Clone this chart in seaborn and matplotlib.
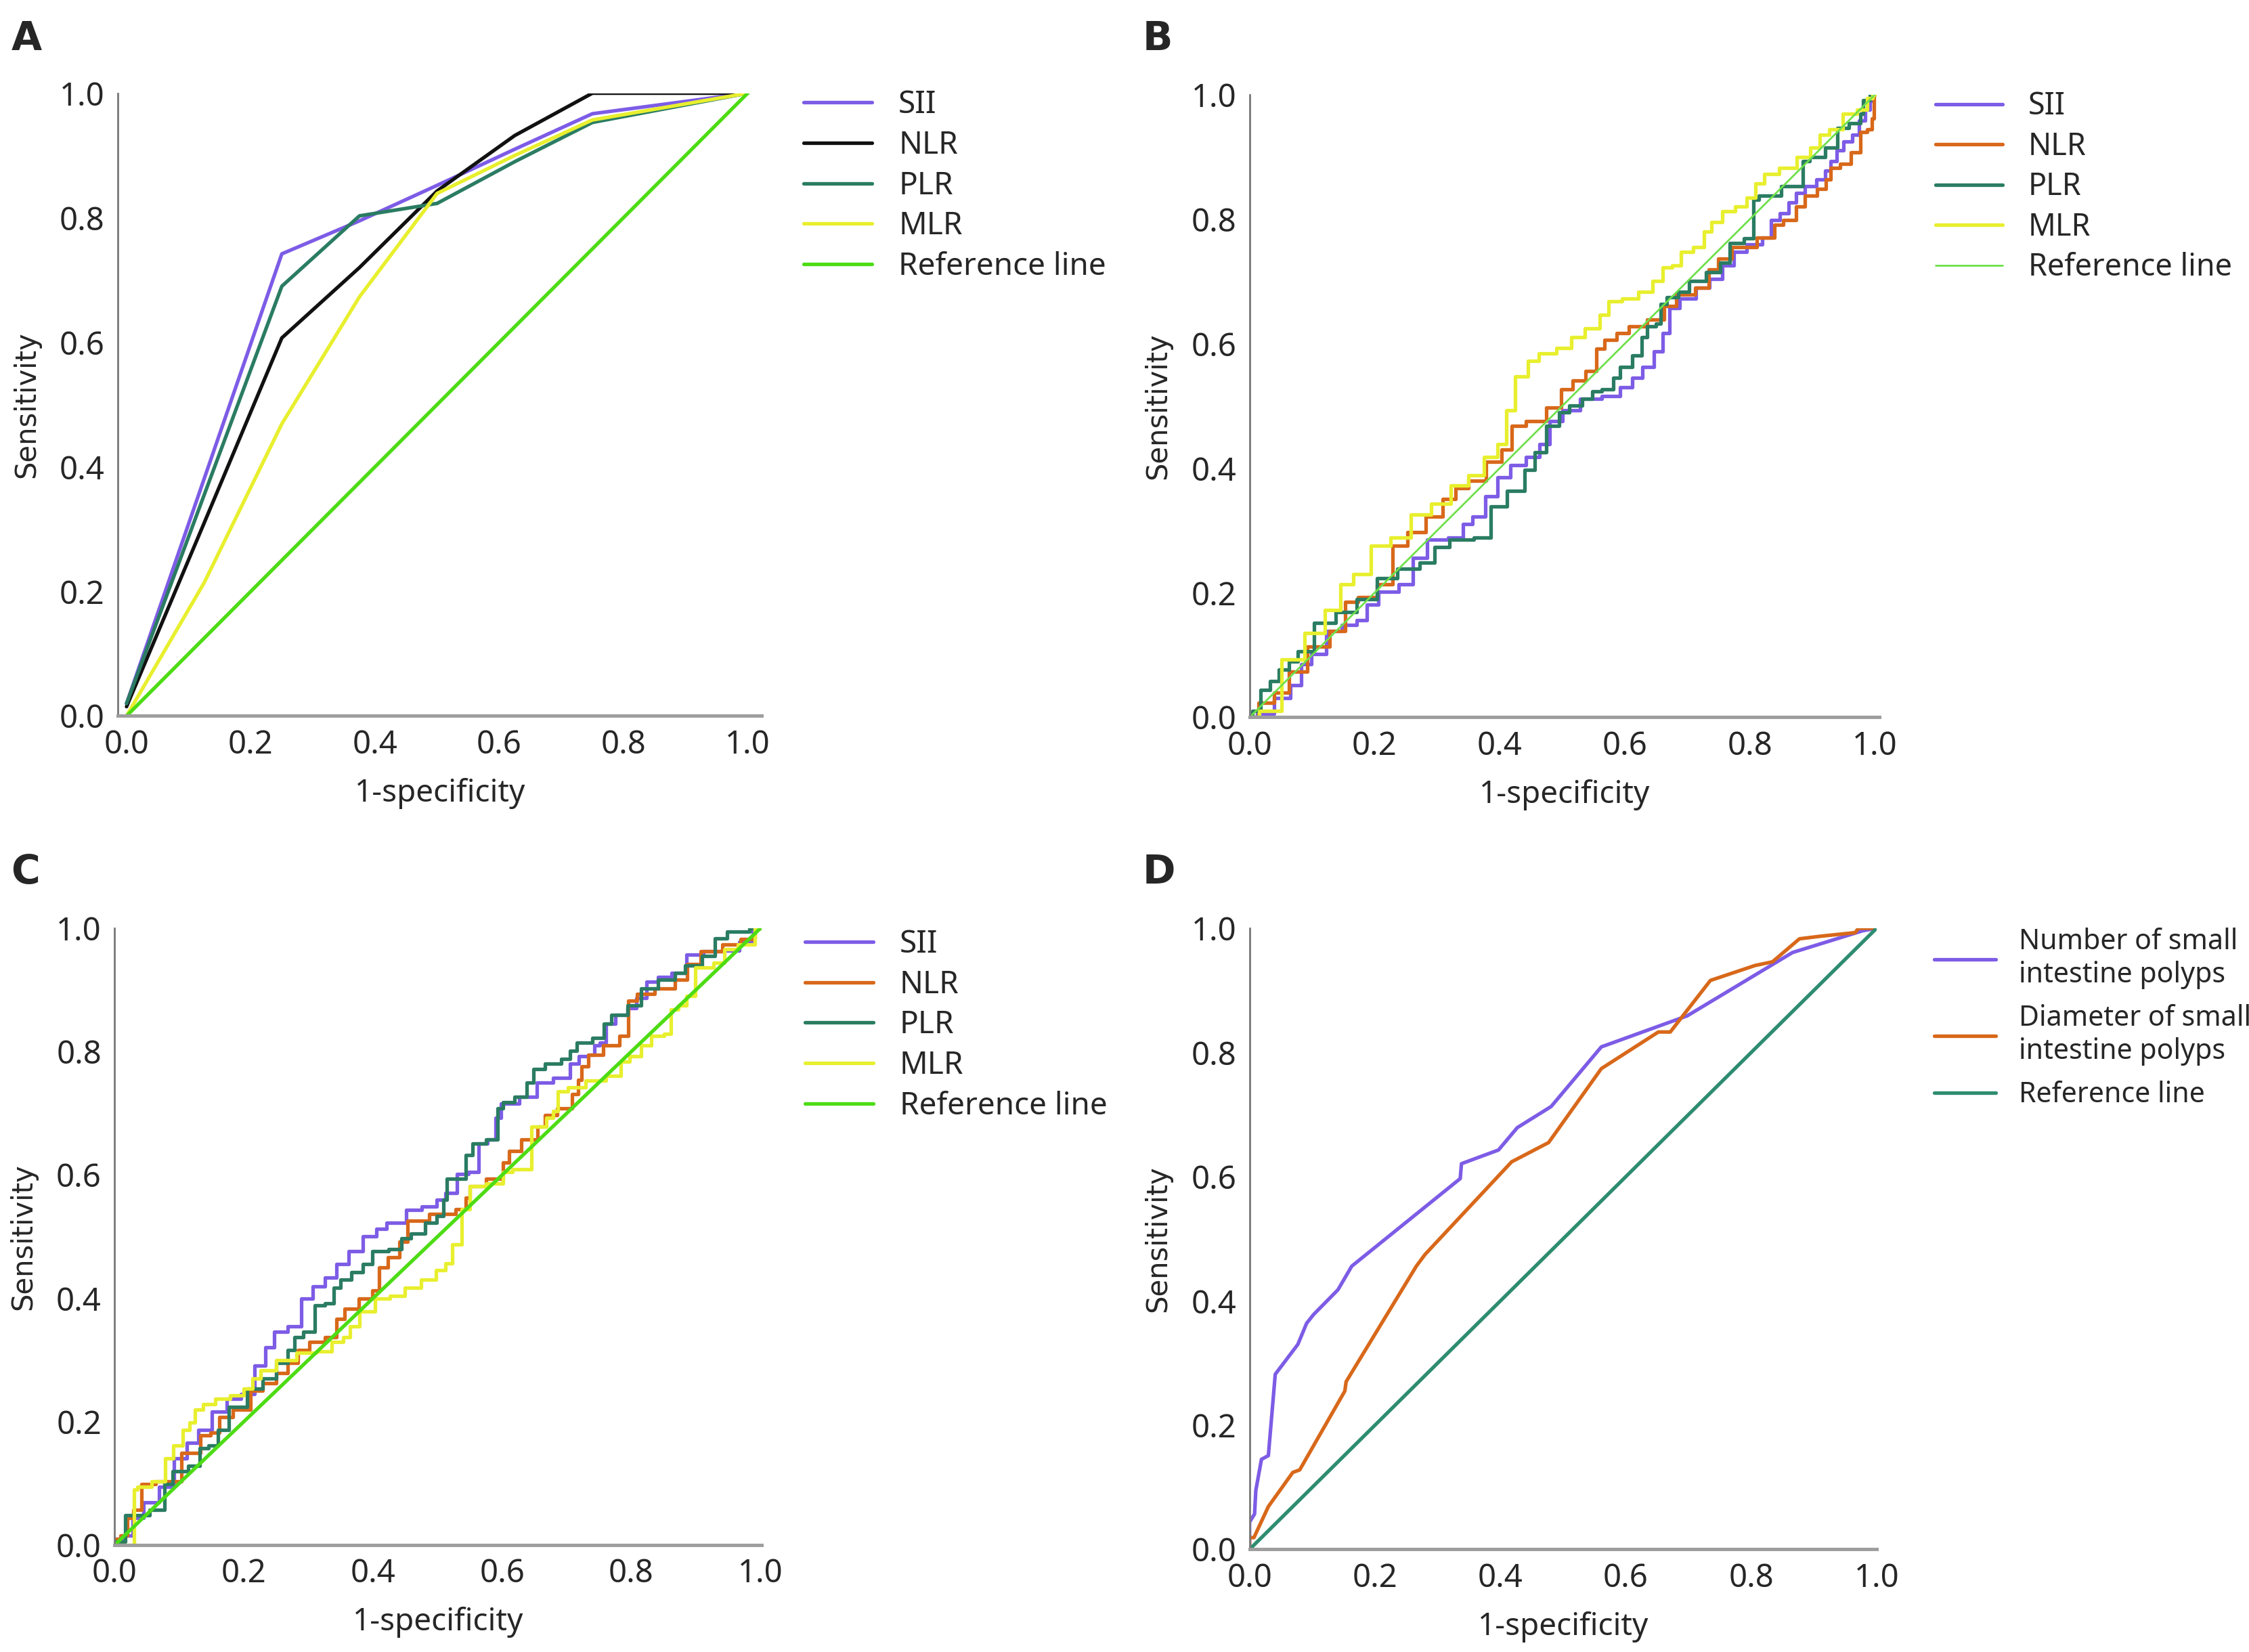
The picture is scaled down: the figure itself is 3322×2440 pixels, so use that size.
import numpy as np
import pandas as pd
import seaborn as sns
import matplotlib.pyplot as plt

sns.set_style('white')
plt.rcParams['font.family'] = ['DejaVu Sans']

# ---- panel A ----
a_sii_x = [0, 0.25, 0.375, 0.5, 0.625, 0.75, 1.0]
a_sii_y = [0.02, 0.742, 0.795, 0.852, 0.91, 0.967, 1.0]
a_nlr_x = [0, 0.125, 0.25, 0.375, 0.5, 0.625, 0.75, 1.0]
a_nlr_y = [0.015, 0.31, 0.607, 0.72, 0.843, 0.932, 1.0, 1.0]
a_plr_x = [0, 0.25, 0.375, 0.5, 0.625, 0.75, 1.0]
a_plr_y = [0.02, 0.69, 0.803, 0.823, 0.89, 0.953, 1.0]
a_mlr_x = [0, 0.125, 0.25, 0.375, 0.5, 0.625, 0.75, 1.0]
a_mlr_y = [0.0, 0.214, 0.469, 0.673, 0.839, 0.9, 0.957, 1.0]

# ---- panel B ----
b_sii_x = [0, 0.025, 0.054, 0.076, 0.09, 0.108, 0.137, 0.159, 0.184, 0.191, 0.22, 0.256, 0.267, 0.3, 0.336,
           0.346, 0.368, 0.386, 0.408, 0.426, 0.459, 0.469, 0.491, 0.509, 0.549, 0.578, 0.607, 0.618, 0.639,
           0.654, 0.668, 0.675, 0.701, 0.726, 0.744, 0.769, 0.78, 0.809, 0.83, 0.838, 0.859, 0.866, 0.881,
           0.895, 0.917, 0.924, 0.935, 0.942, 0.957, 0.971, 0.978, 0.99, 0.995, 1.0]
b_sii_y = [0, 0.006, 0.031, 0.052, 0.085, 0.102, 0.139, 0.148, 0.156, 0.181, 0.202, 0.214, 0.256, 0.285, 0.289,
           0.31, 0.322, 0.355, 0.385, 0.405, 0.418, 0.439, 0.476, 0.493, 0.512, 0.516, 0.53, 0.545, 0.563,
           0.588, 0.617, 0.657, 0.672, 0.69, 0.704, 0.726, 0.748, 0.759, 0.77, 0.799, 0.809, 0.827, 0.842,
           0.853, 0.864, 0.878, 0.893, 0.911, 0.925, 0.936, 0.958, 0.976, 0.99, 1.0]
b_nlr_x = [0, 0.029, 0.05, 0.076, 0.108, 0.148, 0.159, 0.188, 0.22, 0.238, 0.267, 0.296, 0.321, 0.337, 0.364,
           0.393, 0.413, 0.426, 0.459, 0.491, 0.506, 0.528, 0.547, 0.562, 0.574, 0.6, 0.614, 0.657, 0.668,
           0.697, 0.729, 0.74, 0.758, 0.784, 0.838, 0.841, 0.866, 0.881, 0.895, 0.92, 0.924, 0.935, 0.953,
           0.971, 0.982, 0.993, 0.997, 1.0]
b_nlr_y = [0, 0.023, 0.04, 0.073, 0.114, 0.139, 0.185, 0.193, 0.214, 0.276, 0.297, 0.322, 0.351, 0.368, 0.38,
           0.41, 0.43, 0.468, 0.476, 0.497, 0.527, 0.541, 0.556, 0.592, 0.606, 0.617, 0.628, 0.639, 0.661,
           0.679, 0.69, 0.719, 0.737, 0.755, 0.77, 0.791, 0.799, 0.82, 0.838, 0.849, 0.864, 0.882, 0.889,
           0.907, 0.94, 0.944, 0.962, 1.0]
b_plr_x = [0, 0.01, 0.025, 0.04, 0.054, 0.072, 0.083, 0.123, 0.152, 0.191, 0.217, 0.256, 0.289, 0.303, 0.336,
           0.382, 0.39, 0.433, 0.447, 0.466, 0.484, 0.506, 0.517, 0.547, 0.549, 0.578, 0.585, 0.6, 0.625,
           0.629, 0.643, 0.656, 0.659, 0.675, 0.697, 0.708, 0.751, 0.755, 0.78, 0.802, 0.809, 0.82, 0.881,
           0.888, 0.903, 0.938, 0.942, 0.975, 0.978, 0.985, 1.0]
b_plr_y = [0, 0.01, 0.044, 0.058, 0.077, 0.09, 0.106, 0.152, 0.169, 0.19, 0.223, 0.239, 0.248, 0.273, 0.285,
           0.289, 0.339, 0.364, 0.397, 0.426, 0.468, 0.49, 0.501, 0.512, 0.523, 0.527, 0.545, 0.563, 0.581,
           0.61, 0.628, 0.632, 0.664, 0.675, 0.683, 0.701, 0.715, 0.73, 0.762, 0.769, 0.831, 0.838, 0.853,
           0.893, 0.9, 0.915, 0.947, 0.954, 0.969, 0.991, 1.0]
b_mlr_x = [0, 0.03, 0.072, 0.105, 0.137, 0.153, 0.18, 0.209, 0.242, 0.274, 0.307, 0.336, 0.364, 0.386, 0.407,
           0.415, 0.435, 0.455, 0.47, 0.512, 0.517, 0.556, 0.564, 0.585, 0.607, 0.636, 0.654, 0.668, 0.683,
           0.697, 0.722, 0.731, 0.747, 0.766, 0.787, 0.802, 0.816, 0.83, 0.863, 0.888, 0.906, 0.917, 0.938,
           0.96, 0.982, 0.993, 1.0]
b_mlr_y = [0, 0.01, 0.093, 0.135, 0.172, 0.214, 0.23, 0.276, 0.289, 0.326, 0.343, 0.372, 0.389, 0.418, 0.439,
           0.493, 0.547, 0.572, 0.584, 0.593, 0.61, 0.625, 0.646, 0.668, 0.672, 0.683, 0.701, 0.722, 0.726,
           0.748, 0.755, 0.78, 0.795, 0.813, 0.82, 0.835, 0.857, 0.873, 0.882, 0.9, 0.915, 0.936, 0.944,
           0.969, 0.976, 0.994, 1.0]

# ---- panel C ----
c_sii_x = [0, 0.023, 0.033, 0.056, 0.082, 0.102, 0.121, 0.138, 0.163, 0.184, 0.208, 0.226, 0.24, 0.254, 0.282,
           0.296, 0.317, 0.334, 0.352, 0.372, 0.397, 0.414, 0.428, 0.449, 0.453, 0.498, 0.5, 0.525, 0.535,
           0.56, 0.567, 0.588, 0.591, 0.605, 0.647, 0.661, 0.696, 0.714, 0.724, 0.742, 0.743, 0.759, 0.763,
           0.787, 0.801, 0.815, 0.833, 0.85, 0.875, 0.896, 0.927, 0.959, 0.976, 1.0]
c_sii_y = [0.01, 0.015, 0.044, 0.069, 0.094, 0.14, 0.166, 0.186, 0.216, 0.237, 0.245, 0.291, 0.32, 0.346, 0.354,
           0.4, 0.419, 0.434, 0.455, 0.476, 0.501, 0.513, 0.522, 0.522, 0.543, 0.549, 0.56, 0.571, 0.601,
           0.605, 0.651, 0.658, 0.693, 0.716, 0.727, 0.75, 0.757, 0.78, 0.793, 0.795, 0.81, 0.814, 0.845,
           0.86, 0.871, 0.887, 0.913, 0.921, 0.928, 0.957, 0.963, 0.964, 0.978, 1.0]
c_nlr_x = [0, 0.019, 0.021, 0.037, 0.047, 0.079, 0.128, 0.138, 0.159, 0.166, 0.201, 0.219, 0.24, 0.261, 0.275,
           0.292, 0.31, 0.341, 0.345, 0.366, 0.39, 0.407, 0.411, 0.435, 0.446, 0.46, 0.514, 0.542, 0.546,
           0.553, 0.598, 0.605, 0.616, 0.644, 0.665, 0.668, 0.703, 0.714, 0.721, 0.724, 0.742, 0.77, 0.794,
           0.796, 0.822, 0.85, 0.885, 0.887, 0.927, 0.955, 0.983, 1.0]
c_nlr_y = [0.01, 0.015, 0.044, 0.057, 0.099, 0.103, 0.149, 0.178, 0.182, 0.207, 0.22, 0.25, 0.262, 0.279, 0.295,
           0.316, 0.329, 0.337, 0.367, 0.383, 0.4, 0.413, 0.45, 0.467, 0.492, 0.526, 0.537, 0.544, 0.563,
           0.582, 0.594, 0.62, 0.639, 0.658, 0.678, 0.697, 0.708, 0.731, 0.754, 0.776, 0.795, 0.81, 0.826,
           0.883, 0.894, 0.902, 0.917, 0.942, 0.963, 0.974, 0.982, 1.0]
c_plr_x = [0, 0.033, 0.075, 0.079, 0.1, 0.128, 0.135, 0.156, 0.163, 0.191, 0.219, 0.24, 0.261, 0.275, 0.282,
           0.303, 0.317, 0.334, 0.345, 0.355, 0.379, 0.39, 0.407, 0.442, 0.446, 0.472, 0.49, 0.507, 0.511,
           0.517, 0.542, 0.546, 0.563, 0.588, 0.598, 0.605, 0.633, 0.644, 0.654, 0.679, 0.703, 0.707, 0.724,
           0.756, 0.759, 0.78, 0.808, 0.822, 0.861, 0.875, 0.892, 0.927, 0.931, 0.966, 1.0]
c_plr_y = [0.005, 0.048, 0.057, 0.099, 0.12, 0.128, 0.157, 0.161, 0.186, 0.224, 0.254, 0.27, 0.295, 0.316, 0.337,
           0.346, 0.388, 0.392, 0.417, 0.43, 0.442, 0.455, 0.476, 0.48, 0.497, 0.505, 0.522, 0.533, 0.56,
           0.594, 0.594, 0.632, 0.651, 0.658, 0.708, 0.718, 0.727, 0.75, 0.772, 0.78, 0.788, 0.801, 0.814,
           0.822, 0.845, 0.86, 0.875, 0.902, 0.917, 0.928, 0.94, 0.955, 0.984, 0.995, 1.0]
c_mlr_x = [0, 0.03, 0.03, 0.04, 0.075, 0.082, 0.1, 0.11, 0.121, 0.128, 0.145, 0.166, 0.191, 0.208, 0.219,
           0.233, 0.268, 0.296, 0.327, 0.345, 0.362, 0.366, 0.393, 0.414, 0.439, 0.46, 0.488, 0.507, 0.518,
           0.528, 0.546, 0.553, 0.598, 0.605, 0.626, 0.665, 0.672, 0.686, 0.687, 0.717, 0.742, 0.78, 0.787,
           0.808, 0.822, 0.84, 0.861, 0.861, 0.885, 0.885, 0.913, 0.941, 0.948, 0.983, 1.0]
c_mlr_y = [0, 0.0, 0.09, 0.094, 0.103, 0.14, 0.161, 0.186, 0.199, 0.22, 0.228, 0.237, 0.243, 0.254, 0.27,
           0.283, 0.3, 0.312, 0.314, 0.329, 0.337, 0.354, 0.379, 0.4, 0.404, 0.417, 0.43, 0.446, 0.457,
           0.487, 0.544, 0.582, 0.586, 0.605, 0.609, 0.678, 0.693, 0.704, 0.735, 0.742, 0.753, 0.761, 0.784,
           0.793, 0.81, 0.826, 0.829, 0.868, 0.875, 0.89, 0.936, 0.944, 0.966, 0.974, 1.0]

# ---- panel D ----
d_num_x = [0, 0, 0.008, 0.01, 0.019, 0.03, 0.041, 0.077, 0.091, 0.102, 0.141, 0.163, 0.336, 0.338, 0.397,
           0.427, 0.481, 0.561, 0.698, 0.866, 0.978, 1.0]
d_num_y = [0, 0.044, 0.057, 0.095, 0.145, 0.151, 0.282, 0.33, 0.364, 0.378, 0.418, 0.456, 0.597, 0.621, 0.643,
           0.679, 0.713, 0.809, 0.859, 0.961, 0.996, 1.0]
d_dia_x = [0, 0, 0.007, 0.03, 0.069, 0.08, 0.152, 0.154, 0.266, 0.28, 0.418, 0.477, 0.561, 0.652, 0.671,
           0.735, 0.806, 0.834, 0.877, 0.909, 0.966, 0.971, 1.0]
d_dia_y = [0, 0.019, 0.019, 0.069, 0.124, 0.128, 0.255, 0.27, 0.456, 0.475, 0.624, 0.655, 0.774, 0.833, 0.833,
           0.916, 0.94, 0.946, 0.983, 0.987, 0.993, 1.0, 1.0]

ref_x = [0, 1]
ref_y = [0, 1]

ticks = [0.0, 0.2, 0.4, 0.6, 0.8, 1.0]

PURPLE = '#7d5ce6'
BLACK = '#111111'
TEAL = '#2a7c62'
YELLOW = '#e8ef2e'
GREEN = '#4ddc14'
ORANGE = '#d8681a'
D_REF = '#2e8c70'

NARROW = ['Noto Sans', 'DejaVu Sans']

fig = plt.figure(figsize=(16.61, 12.2), dpi=200)
axA = fig.add_axes([0.0524, 0.5666, 0.2864, 0.377])
axB = fig.add_axes([0.5556, 0.5658, 0.2800, 0.3769])
axC = fig.add_axes([0.0510, 0.0648, 0.2877, 0.3733])
axD = fig.add_axes([0.5556, 0.0621, 0.2788, 0.3760])


def curve(ax, xs, ys, color, name, lw=1.9, step=False):
    kw = dict(drawstyle='steps-mid') if step else {}
    sns.lineplot(x=xs, y=ys, ax=ax, color=color, lw=lw, label=name,
                 sort=False, estimator=None, **kw)


curve(axA, a_sii_x, a_sii_y, PURPLE, 'SII')
curve(axA, a_nlr_x, a_nlr_y, BLACK, 'NLR')
curve(axA, a_plr_x, a_plr_y, TEAL, 'PLR')
curve(axA, a_mlr_x, a_mlr_y, YELLOW, 'MLR')
curve(axA, ref_x, ref_y, GREEN, 'Reference line')

curve(axB, b_sii_x, b_sii_y, PURPLE, 'SII', step=True)
curve(axB, b_nlr_x, b_nlr_y, ORANGE, 'NLR', step=True)
curve(axB, b_plr_x, b_plr_y, TEAL, 'PLR', step=True)
curve(axB, b_mlr_x, b_mlr_y, YELLOW, 'MLR', step=True)
curve(axB, ref_x, ref_y, '#6ee04a', 'Reference line', lw=1.0)

curve(axC, c_sii_x, c_sii_y, PURPLE, 'SII', step=True)
curve(axC, c_nlr_x, c_nlr_y, ORANGE, 'NLR', step=True)
curve(axC, c_plr_x, c_plr_y, TEAL, 'PLR', step=True)
curve(axC, c_mlr_x, c_mlr_y, YELLOW, 'MLR', step=True)
curve(axC, ref_x, ref_y, GREEN, 'Reference line')

curve(axD, d_num_x, d_num_y, PURPLE, 'Number of small\nintestine polyps')
curve(axD, d_dia_x, d_dia_y, ORANGE, 'Diameter of small\nintestine polyps')
curve(axD, ref_x, ref_y, D_REF, 'Reference line')

xlims = {axA: (-0.014, 1.023), axB: (0, 1.007), axC: (0, 1.002), axD: (0, 1.0)}
legend_at = {axA: (1.065, 1.006), axB: (1.089, 1.006), axC: (1.0665, 0.999), axD: (1.092, 1.001)}
legend_size = {axA: 16.5, axB: 16.2, axC: 16.5, axD: 14.8}

for ax in (axA, axB, axC, axD):
    ax.set_xlim(*xlims[ax])
    ax.set_ylim(0, 1.0)
    ax.set_xticks(ticks)
    ax.set_yticks(ticks)
    ax.set_xticklabels([f'{t:.1f}' for t in ticks], family=NARROW, fontsize=17)
    ax.set_yticklabels([f'{t:.1f}' for t in ticks], family=NARROW, fontsize=17)
    ax.tick_params(axis='both', length=0)
    ax.tick_params(axis='x', pad=7)
    ax.tick_params(axis='y', pad=7)
    ax.set_xlabel('1-specificity', fontsize=16.5, family=NARROW, labelpad=9)
    ax.set_ylabel('Sensitivity', fontsize=15, labelpad=10)
    sns.despine(ax=ax)
    ax.spines['left'].set_color('#777777')
    ax.spines['left'].set_linewidth(1.0)
    ax.spines['bottom'].set_color('#9e9e9e')
    ax.spines['bottom'].set_linewidth(1.8)
    ax.legend(loc='upper left', bbox_to_anchor=legend_at[ax], frameon=False,
              prop={'family': NARROW, 'size': legend_size[ax]},
              handlelength=2.2, handletextpad=0.85,
              labelspacing=0.3 if ax is not axD else 0.55, borderpad=0, borderaxespad=0)

for letter, (x, y) in zip('ABCD', [(0.005, 0.9766), (0.508, 0.9766), (0.005, 0.472), (0.508, 0.472)]):
    fig.text(x, y, letter, fontsize=21, fontweight='bold', ha='left', va='center')

fig.savefig('out.png', dpi=200)
